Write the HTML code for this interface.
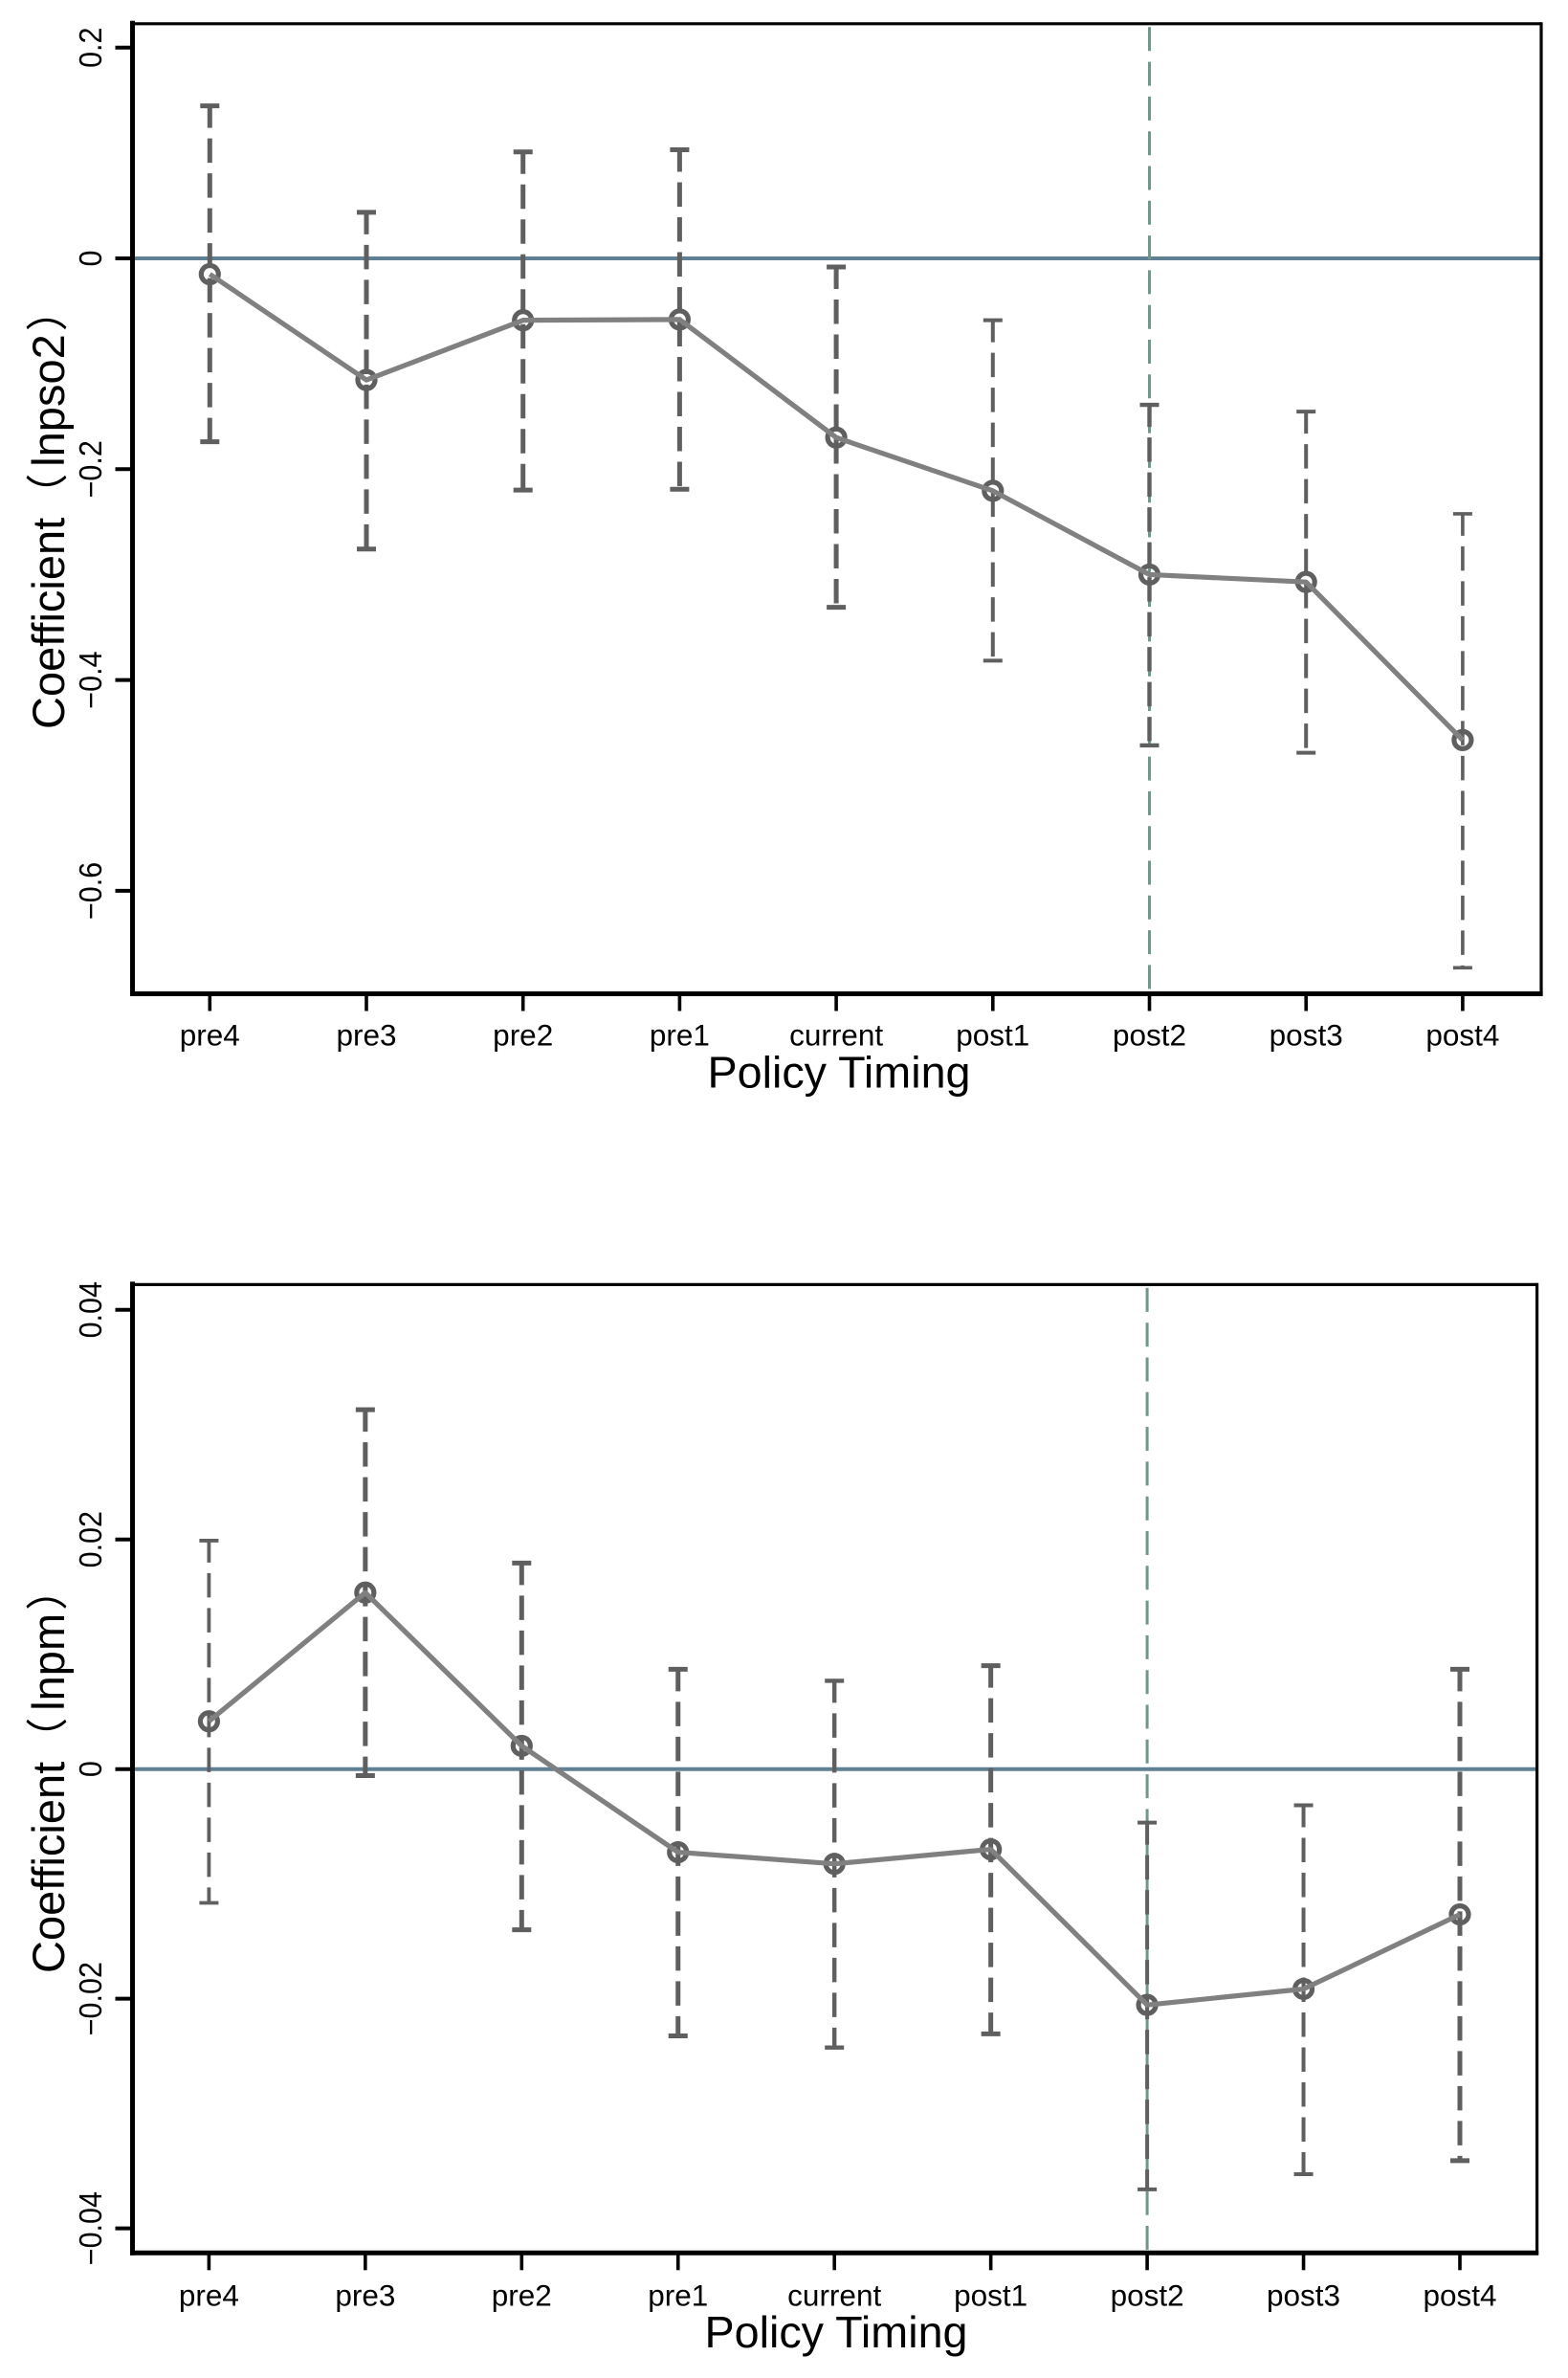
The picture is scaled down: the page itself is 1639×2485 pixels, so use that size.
<!DOCTYPE html>
<html lang="en">
<head>
<meta charset="utf-8">
<title>Policy Timing Coefficient Plots</title>
<style>
html,body{margin:0;padding:0;background:#fff;}
svg{display:block;}
text{font-family:"Liberation Sans","Noto Sans CJK SC",sans-serif;fill:#000;}
</style>
</head>
<body>
<svg id="chart" xmlns="http://www.w3.org/2000/svg" width="1639" height="2485" viewBox="0 0 1639 2485"></svg>
<script>
const categories = ['pre4','pre3','pre2','pre1','current','post1','post2','post3','post4'];
const policyEvent = 'post2';

const topCoef  = [-0.015,-0.1154,-0.0587,-0.058,-0.170,-0.2205,-0.300,-0.307,-0.457];
const topUpper = [0.1447,0.0437,0.101,0.103,-0.0082,-0.0587,-0.139,-0.1454,-0.2423];
const topLower = [-0.174,-0.2758,-0.2198,-0.219,-0.331,-0.3816,-0.462,-0.469,-0.673];
const topTicks = [0.2,0,-0.2,-0.4,-0.6];
const topTickLabels = ['0.2','0','\u22120.2','\u22120.4','\u22120.6'];

const bottomCoef  = [0.00416,0.01537,0.00202,-0.00724,-0.00825,-0.00699,-0.02054,-0.01915,-0.01266];
const bottomUpper = [0.0199,0.0313,0.01795,0.00869,0.00769,0.00901,-0.00466,-0.00315,0.00869];
const bottomLower = [-0.01165,-0.00057,-0.014,-0.02324,-0.02425,-0.02306,-0.0366,-0.03528,-0.0341];
const bottomTicks = [0.04,0.02,0,-0.02,-0.04];
const bottomTickLabels = ['0.04','0.02','0','\u22120.02','\u22120.04'];

const NS = 'http://www.w3.org/2000/svg';
const svg = document.getElementById('chart');

function node(parent, tag, attrs) {
  const el = document.createElementNS(NS, tag);
  for (const k in attrs) el.setAttribute(k, attrs[k]);
  parent.appendChild(el);
  return el;
}

function drawPlot(cfg) {
  const xScale = function (i) { return cfg.x0 + i * cfg.xStep; };
  const yScale = function (v) { return cfg.y0 - v * cfg.yPerUnit; };

  const g = node(svg, 'g', {});
  
  

  // zero reference line
  const zero = node(g, 'line', {x1: cfg.left, x2: cfg.right, y1: yScale(0), y2: yScale(0), stroke: '#5f7f93', 'stroke-width': 4});
  
  

  // policy reference line
  const px = xScale(categories.indexOf(policyEvent));
  const vref = node(g, 'line', {x1: px, x2: px, y1: cfg.top + 3.5, y2: cfg.bottom, stroke: '#739689', 'stroke-width': 3, 'stroke-dasharray': '25 11.3'});
  
  

  // confidence intervals
  categories.forEach(function (cat, i) {
    const x = xScale(i);
    const hi = yScale(cfg.upper[i]);
    const lo = yScale(cfg.lower[i]);
    const w = cfg.ciWidth[i];
    const ci = node(g, 'g', {stroke: '#5f5f5f', 'stroke-width': w, fill: 'none'});
    
    
    node(ci, 'line', {x1: x, x2: x, y1: hi, y2: lo, 'stroke-dasharray': '25.5 11', 'stroke-dashoffset': 2.5});
    node(ci, 'line', {x1: x - 10, x2: x + 10, y1: hi, y2: hi});
    node(ci, 'line', {x1: x - 10, x2: x + 10, y1: lo, y2: lo});
  });

  // markers
  categories.forEach(function (cat, i) {
    const m = node(g, 'circle', {cx: xScale(i), cy: yScale(cfg.coef[i]), r: 9, fill: 'none', stroke: '#5f5f5f', 'stroke-width': 5.2});
    
    
  });

  // coefficient line
  const pts = categories.map(function (cat, i) { return xScale(i) + ',' + yScale(cfg.coef[i]); }).join(' ');
  const path = node(g, 'polyline', {points: pts, fill: 'none', stroke: '#808080', 'stroke-width': 5.2, 'stroke-linejoin': 'round'});
  
  

  // frame
  const frameTop = node(g, 'line', {x1: cfg.left, x2: cfg.right, y1: cfg.top, y2: cfg.top, stroke: '#000', 'stroke-width': 3.2});
  
  
  const frameRight = node(g, 'line', {x1: cfg.right, x2: cfg.right, y1: cfg.top - 1.6, y2: cfg.bottom + 2, stroke: '#000', 'stroke-width': 3.2});
  
  
  const xAxis = node(g, 'line', {x1: cfg.left - 2.5, x2: cfg.right + 1.6, y1: cfg.bottom, y2: cfg.bottom, stroke: '#000', 'stroke-width': 5});
  
  
  const yAxis = node(g, 'line', {x1: cfg.left, x2: cfg.left, y1: cfg.top - 3, y2: cfg.bottom + 2.5, stroke: '#000', 'stroke-width': 5});
  
  

  // x ticks and labels
  categories.forEach(function (cat, i) {
    const x = xScale(i);
    const t = node(g, 'line', {x1: x, x2: x, y1: cfg.bottom, y2: cfg.bottom + 18, stroke: '#000', 'stroke-width': 3.6});
    
    
    const label = node(g, 'text', {x: x, y: cfg.xLabelY, 'text-anchor': 'middle', 'font-size': 31.5});
    label.textContent = cat;
    
    
  });

  // y ticks and labels
  cfg.ticks.forEach(function (v, i) {
    const y = yScale(v);
    const t = node(g, 'line', {x1: cfg.left, x2: cfg.left - 18, y1: y, y2: y, stroke: '#000', 'stroke-width': 4});
    
    
    const label = node(g, 'text', {transform: 'translate(106 ' + y + ') rotate(-90) scale(1 1.08)', 'text-anchor': 'middle', 'font-size': 30.5});
    label.textContent = cfg.tickLabels[i];
    
    
  });

  // titles
  const xTitle = node(g, 'text', {x: cfg.xTitleX, y: cfg.xTitleY, 'text-anchor': 'middle', 'font-size': 46.7});
  xTitle.textContent = 'Policy Timing';
  
  

  const yTitle = node(g, 'text', {transform: 'translate(67 ' + cfg.yTitleStart + ') rotate(-90)', 'text-anchor': 'start', 'font-size': 47});
  
  
  const word = node(yTitle, 'tspan', {});
  word.textContent = 'Coefficient';
  const open = node(yTitle, 'tspan', {'font-size': 44, dx: 2, dy: -2});
  open.textContent = '\uFF08';
  const varName = node(yTitle, 'tspan', {dx: 7, dy: 2});
  varName.textContent = cfg.yVar;
  const close = node(yTitle, 'tspan', {'font-size': 44, dx: 3, dy: -2});
  close.textContent = '\uFF09';
}

drawPlot({
  id: 'top', coef: topCoef, upper: topUpper, lower: topLower, ticks: topTicks, tickLabels: topTickLabels,
  ciWidth: [5,5,5,5,5,4,4.4,4,3.6],
  left: 138.5, right: 1611, top: 24.8, bottom: 1038.5,
  x0: 219.3, xStep: 163.7, y0: 270, yPerUnit: 1101.5,
  xLabelY: 1092.5, xTitleX: 877, xTitleY: 1136.5,
  yVar: 'lnpso2', yTitleStart: 762
});

drawPlot({
  id: 'bottom', coef: bottomCoef, upper: bottomUpper, lower: bottomLower, ticks: bottomTicks, tickLabels: bottomTickLabels,
  ciWidth: [3.8,5,5,5,4.4,5,4,4,5],
  left: 138.5, right: 1606.6, top: 1342.4, bottom: 2354.3,
  x0: 218.4, xStep: 163.45, y0: 1848.7, yPerUnit: 11999,
  xLabelY: 2409.5, xTitleX: 874, xTitleY: 2453,
  yVar: 'lnpm', yTitleStart: 2062
});
</script>
</body>
</html>
